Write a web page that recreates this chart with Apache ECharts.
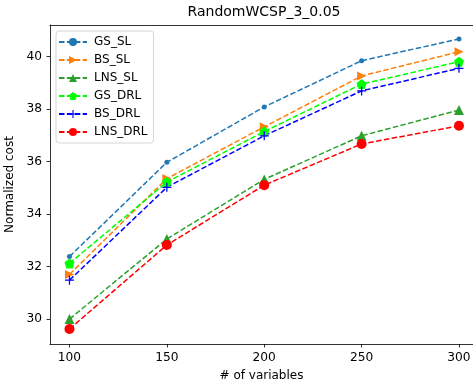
<!DOCTYPE html>
<html>
<head>
<meta charset="utf-8">
<script src="https://cdn.jsdelivr.net/npm/echarts@6/dist/echarts.min.js"></script>
<style>
html,body{margin:0;padding:0;background:#fff;}
#c{width:473px;height:385px;}
</style>
</head>
<body>
<div id="c"></div>
<script>
const variables = [100, 150, 200, 250, 300];
const gsSL   = [32.38, 35.97, 38.08, 39.84, 40.67];
const bsSL   = [31.70, 35.35, 37.32, 39.26, 40.18];
const lnsSL  = [30.00, 33.05, 35.32, 36.98, 37.96];
const gsDRL  = [32.12, 35.22, 37.14, 38.95, 39.80];
const bsDRL  = [31.48, 35.02, 36.98, 38.69, 39.55];
const lnsDRL = [29.62, 32.82, 35.10, 36.67, 37.36];
const yTicks = [30, 32, 34, 36, 38, 40];
const xTicks = [100, 150, 200, 250, 300];

const pentagon = 'path://M0,-1 L0.951,-0.309 L0.588,0.809 L-0.588,0.809 L-0.951,-0.309Z';
const plus = 'path://M-1,-0.14 L-0.14,-0.14 L-0.14,-1 L0.14,-1 L0.14,-0.14 L1,-0.14 L1,0.14 L0.14,0.14 L0.14,1 L-0.14,1 L-0.14,0.14 L-1,0.14Z';
const rightTri = 'path://M-1,-1 L1,0 L-1,1Z';

function mk(name, vals, color, symbol, size) {
  return {
    name: name,
    type: 'line',
    data: variables.map((x, i) => [x, vals[i]]),
    symbol: symbol,
    symbolSize: size,
    showAllSymbol: true,
    itemStyle: { color: color },
    lineStyle: { color: color, width: 1.5, type: [5.5, 2.4] },
    emphasis: { disabled: true },
    animation: false
  };
}

const FONT = 'DejaVu Sans';
const chart = echarts.init(document.getElementById('c'));
chart.setOption({
  animation: false,
  textStyle: { fontFamily: FONT },
  grid: { left: 50, top: 25, bottom: 41, right: 0, show: false, containLabel: false, outerBoundsMode: 'none' },
  graphic: [{
    type: 'text', x: 264, y: 5,
    style: { text: 'RandomWCSP_3_0.05', font: '14px DejaVu Sans', fill: '#000', align: 'center', verticalAlign: 'top' }
  }],
  legend: {
    left: 56, top: 31, orient: 'vertical',
    itemWidth: 28, itemHeight: 10, itemGap: 6,
    padding: [5, 6, 5, 2],
    backgroundColor: '#fff', borderColor: '#cccccc', borderWidth: 0.8, borderRadius: 3,
    textStyle: { fontFamily: FONT, fontSize: 12, color: '#000', padding: [0, 0, 0, 2] },
    data: ['GS_SL', 'BS_SL', 'LNS_SL', 'GS_DRL', 'BS_DRL', 'LNS_DRL']
  },
  xAxis: [{
    type: 'value', min: 90, max: 307.2,
    name: '# of variables', nameLocation: 'middle', nameGap: 26,
    nameTextStyle: { fontFamily: FONT, fontSize: 12, color: '#000' },
    axisLine: { lineStyle: { color: '#000', width: 0.8 } },
    axisTick: { show: true, length: 3.5, lineStyle: { color: '#000', width: 0.8 }, customValues: xTicks },
    axisLabel: { fontFamily: FONT, fontSize: 12.2, color: '#000', margin: 8, customValues: xTicks },
    splitLine: { show: false }
  }, {
    type: 'value', min: 90, max: 307.2, position: 'top',
    axisLine: { show: true, onZero: false, lineStyle: { color: '#000', width: 0.8 } },
    axisTick: { show: false }, axisLabel: { show: false }, splitLine: { show: false }
  }],
  yAxis: {
    type: 'value', min: 29.05, max: 41.2,
    name: 'Normalized cost', nameLocation: 'middle', nameGap: 33,
    nameTextStyle: { fontFamily: FONT, fontSize: 12, color: '#000' },
    axisLine: { show: true, lineStyle: { color: '#000', width: 0.8 } },
    axisTick: { show: true, length: 3.5, lineStyle: { color: '#000', width: 0.8 }, customValues: yTicks },
    axisLabel: { fontFamily: FONT, fontSize: 12.2, color: '#000', margin: 8, customValues: yTicks },
    splitLine: { show: false }
  },
  series: [
    mk('GS_SL', gsSL, '#1f77b4', 'circle', 5),
    mk('BS_SL', bsSL, '#ff7f0e', rightTri, 9),
    mk('LNS_SL', lnsSL, '#2ca02c', 'triangle', 10),
    mk('GS_DRL', gsDRL, '#00ff00', pentagon, 10),
    mk('BS_DRL', bsDRL, '#0000ff', plus, 9),
    mk('LNS_DRL', lnsDRL, '#ff0000', 'circle', 10)
  ]
});
</script>
</body>
</html>
